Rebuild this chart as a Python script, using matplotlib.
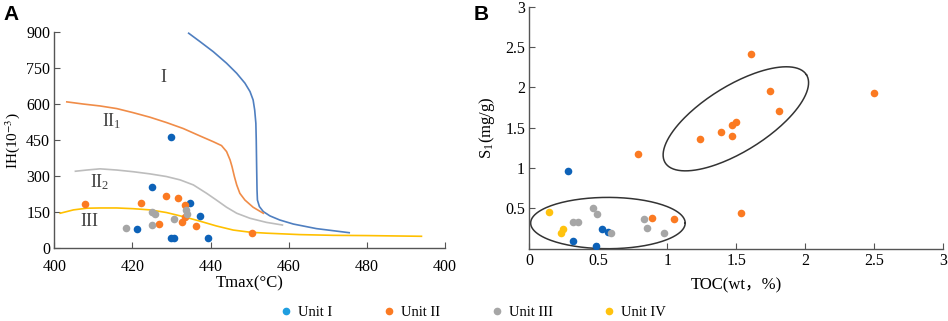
import numpy as np
import matplotlib.pyplot as plt
from matplotlib.lines import Line2D

plt.rcParams['font.family'] = ['Liberation Serif', 'Noto Sans CJK SC']
plt.rcParams['mathtext.fontset'] = 'stix'

# colours
c_blue = '#0d62b8'
c_orange = '#fb7a22'
c_gray = '#a6a6a6'
c_yellow = '#ffc20e'
leg_colors = ['#1f9ee0', c_orange, c_gray, c_yellow]
units = ['Unit I', 'Unit II', 'Unit III', 'Unit IV']

# ---- panel A data: Tmax vs IH ----
a_unit1_tmax = [429.9, 425.1, 434.7, 437.3, 421.2, 429.8, 430.7, 439.3]
a_unit1_ih = [465, 257, 187, 135, 80, 42, 42, 42]
a_unit2_tmax = [407.8, 422.2, 428.7, 431.6, 433.4, 433.4, 432.6, 426.9, 436.2, 450.6]
a_unit2_ih = [185, 190, 218, 211, 182, 132, 110, 103, 94, 65]
a_unit3_tmax = [418.4, 425.1, 425.9, 425.1, 430.6, 433.7, 433.9]
a_unit3_ih = [86, 150, 142, 97, 123, 160, 143]

# kerogen type boundary curves
type1_x = [434.4, 437.3, 440.7, 444.1, 446.7, 448.8, 450.1, 450.9, 451.3, 451.6, 451.7, 451.8, 451.9,
           452.0, 452.5, 453.5, 455.2, 457.7, 461.2, 467.1, 475.5]
type1_y = [896, 861, 819, 771, 729, 688, 653, 618, 576, 521, 451, 340, 243, 201, 174, 153, 135, 118,
           101, 82, 65]
type2a_x = [403.2, 407.4, 411.7, 416.0, 420.2, 424.5, 428.7, 433.0, 437.3, 440.7, 442.8, 444.1, 445.0,
            445.5, 446.1, 446.7, 447.5, 448.8, 450.9, 453.5]
type2a_y = [610, 601, 593, 582, 565, 546, 524, 499, 468, 444, 428, 403, 368, 340, 299, 264, 229, 201,
            171, 146]
type2b_x = [405.4, 408.3, 411.7, 416.0, 420.2, 424.5, 428.7, 432.2, 435.6, 439.0, 441.5, 444.1, 446.7,
            450.1, 454.3, 458.4]
type2b_y = [321, 326, 331, 326, 319, 310, 299, 285, 264, 229, 201, 171, 146, 125, 108, 97]
type3_x = [401.5, 404.9, 408.3, 411.7, 416.0, 420.2, 424.5, 428.7, 433.0, 437.3, 441.5, 445.8, 450.1,
           454.3, 462.9, 471.4, 479.9, 494.0]
type3_y = [146, 160, 167, 168, 168, 165, 160, 149, 132, 113, 93, 76, 67, 63, 57, 54, 53, 50]

# ---- panel B data: TOC vs S1 ----
b_unit1_toc = [0.278, 0.525, 0.570, 0.314, 0.483]
b_unit1_s1 = [0.963, 0.244, 0.207, 0.095, 0.037]
b_unit2_toc = [1.604, 1.746, 2.498, 1.812, 1.498, 1.469, 1.386, 1.469, 1.234, 0.787, 1.534, 0.891, 1.048]
b_unit2_s1 = [2.413, 1.955, 1.926, 1.702, 1.570, 1.529, 1.446, 1.401, 1.364, 1.174, 0.438, 0.377, 0.364]
b_unit3_toc = [0.464, 0.488, 0.314, 0.355, 0.833, 0.855, 0.976, 0.590]
b_unit3_s1 = [0.508, 0.430, 0.327, 0.327, 0.364, 0.260, 0.198, 0.198]
b_unit4_toc = [0.145, 0.246, 0.228]
b_unit4_s1 = [0.451, 0.240, 0.191]

fig = plt.figure(figsize=(9.48, 3.21), dpi=100)
axA = fig.add_axes([0.0573, 0.2265, 0.412, 0.673])
axB = fig.add_axes([0.5583, 0.2252, 0.4367, 0.754])

spine_col = '#555555'
for ax in (axA, axB):
    for s in ('top', 'right'):
        ax.spines[s].set_visible(False)
    for s in ('left', 'bottom'):
        ax.spines[s].set_color(spine_col)
        ax.spines[s].set_linewidth(1.0)
    ax.tick_params(direction='in', length=4, color=spine_col, labelsize=11.5, pad=3)

# panel A
kw = dict(lw=1.2, solid_joinstyle='round')
axA.plot(type1_x, type1_y, color='#4f7fc0', **kw)
axA.plot(type2a_x, type2a_y, color='#f08c48', **kw)
axA.plot(type2b_x, type2b_y, color='#bdbdbd', **kw)
axA.plot(type3_x, type3_y, color='#ffc000', **kw)
ms = 30
axA.scatter(a_unit1_tmax, a_unit1_ih, s=ms, color=c_blue, zorder=3, lw=0)
axA.scatter(a_unit2_tmax, a_unit2_ih, s=ms, color=c_orange, zorder=3, lw=0)
axA.scatter(a_unit3_tmax, a_unit3_ih, s=ms, color=c_gray, zorder=3, lw=0)
axA.set_xlim(400, 500)
axA.set_ylim(0, 900)
axA.set_xticks([400, 420, 440, 460, 480, 500])
axA.set_xticklabels(['400', '420', '440', '460', '480', '400'])
axA.set_yticks([0, 150, 300, 450, 600, 750, 900])
axA.tick_params(axis='x', pad=8)
axA.set_xlabel('Tmax(°C)', fontsize=12, labelpad=0)
axA.set_ylabel('IH(10$^{-3}$)', fontsize=11, labelpad=3)
axA.text(428.0, 712, 'I', fontsize=13, ha='center', va='center', color='#444444')
axA.text(414.7, 528, 'II$_{\\mathregular{1}}$', fontsize=13, ha='center', va='center', color='#444444')
axA.text(411.7, 273, 'II$_{\\mathregular{2}}$', fontsize=13, ha='center', va='center', color='#444444')
axA.text(409.0, 111, 'III', fontsize=13, ha='center', va='center', color='#444444')

# panel B
axB.scatter(b_unit1_toc, b_unit1_s1, s=ms, color=c_blue, zorder=3, lw=0)
axB.scatter(b_unit2_toc, b_unit2_s1, s=ms, color=c_orange, zorder=3, lw=0)
axB.scatter(b_unit3_toc, b_unit3_s1, s=ms, color=c_gray, zorder=3, lw=0)
axB.scatter(b_unit4_toc, b_unit4_s1, s=ms, color=c_yellow, zorder=3, lw=0)

# circled groups (center, semi-axis vectors in data units)
t = np.linspace(0, 2 * np.pi, 200)
groups = [((1.497, 1.61), (0.512, 0.545), (-0.125, 0.345)),
          ((0.570, 0.318), (0.560, 0.0), (0.0, 0.318))]
for (cx, cy), (ux, uy), (vx, vy) in groups:
    axB.plot(cx + ux * np.cos(t) + vx * np.sin(t), cy + uy * np.cos(t) + vy * np.sin(t),
             color='#333333', lw=1.1)

axB.set_xlim(0, 3)
axB.set_ylim(0, 3)
axB.set_xticks([0, 0.5, 1, 1.5, 2, 2.5, 3])
axB.set_xticklabels(['0', '0.5', '1', '1.5', '2', '2.5', '3'])
axB.set_yticks([0.5, 1, 1.5, 2, 2.5, 3])
axB.set_yticklabels(['0.5', '1', '1.5', '2', '2.5', '3'])
axB.set_xlabel('TOC(wt，%)', fontsize=12, labelpad=6)
axB.set_ylabel('S$_{\\mathregular{1}}$(mg/g)', fontsize=12, labelpad=6)

fig.text(0.004, 0.955, 'A', fontsize=15, fontweight='bold', family='Liberation Sans', va='center')
fig.text(0.500, 0.955, 'B', fontsize=15, fontweight='bold', family='Liberation Sans', va='center')

handles = [Line2D([], [], marker='o', ls='', color=c, markersize=4.5) for c in leg_colors]
fig.legend(handles, units, loc='center', bbox_to_anchor=(0.4985, 0.028), ncol=4, frameon=False,
           fontsize=10.5, handletextpad=0.3, columnspacing=3.4, handlelength=1.0)

fig.savefig('out.png', dpi=100)
